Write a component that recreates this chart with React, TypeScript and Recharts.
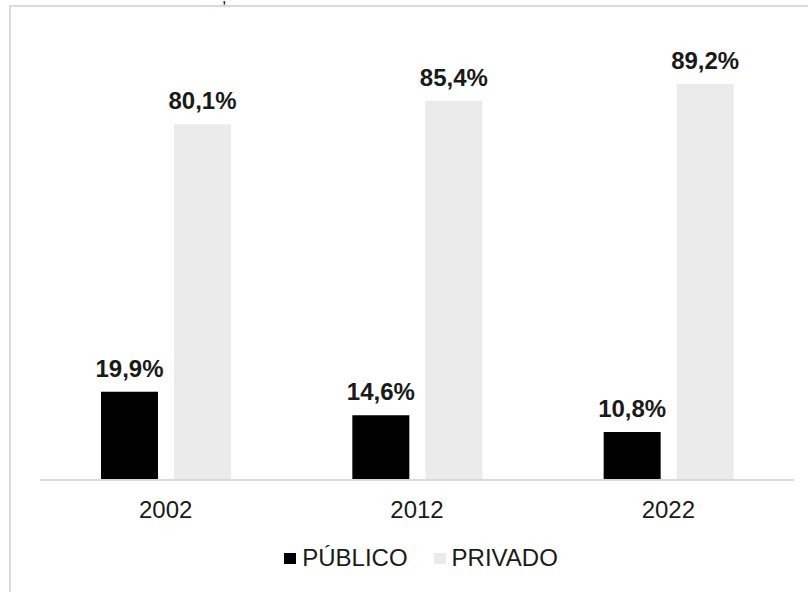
import React from "react"
import { BarChart, Bar, XAxis, YAxis, LabelList, Legend } from "recharts"

const years = ["2002", "2012", "2022"]
const publico = [19.9, 14.6, 10.8]
const privado = [80.1, 85.4, 89.2]

const FONT = "'Liberation Sans', Arial, sans-serif"
const BLACK = "#000000"
const GRAY = "#ebebeb"

const data = years.map((year, i) => ({
  year,
  publico: publico[i],
  privado: privado[i],
}))

const fmt = (v: any) => `${Number(v).toFixed(1).replace(".", ",")}%`

function LegendContent() {
  const items = [
    { label: "PÚBLICO", color: BLACK },
    { label: "PRIVADO", color: GRAY },
  ]
  return (
    <div style={{ display: "flex", justifyContent: "center", alignItems: "center", gap: 26, paddingLeft: 34, fontFamily: FONT, fontSize: 24, color: "#1a1a1a", lineHeight: "24px" }}>
      {items.map((it) => (
        <div key={it.label} style={{ display: "flex", alignItems: "center", gap: 6 }}>
          <span style={{ display: "inline-block", width: 12, height: 11, background: it.color }} />
          <span>{it.label}</span>
        </div>
      ))}
    </div>
  )
}

export default function App() {
  return (
    <div style={{ position: "absolute", left: 0, top: 0, width: 808, height: 592, overflow: "hidden", background: "#fff" }}>
      {/* remnant of the text above the frame */}
      <svg style={{ position: "absolute", left: 218, top: 0 }} width={14} height={8}>
        <text x={4} y={3} fontSize={16} fontFamily={FONT} fill="#000">,</text>
      </svg>
      <div
        style={{
          position: "absolute",
          left: 9,
          top: 5,
          width: 900,
          height: 700,
          borderTop: "2px solid #d9d9d9",
          borderLeft: "2px solid #d9d9d9",
        }}
      />
      <div style={{ position: "absolute", left: 0, top: 0 }}>
        <BarChart
          width={808}
          height={592}
          data={data}
          margin={{ top: 36, right: 14, left: 40, bottom: 22 }}
          barGap={16}
          barSize={57}
        >
          <XAxis
            dataKey="year"
            height={50}
            tickLine={false}
            tickSize={0}
            tickMargin={21}
            axisLine={{ stroke: "#d9d9d9", strokeWidth: 2 }}
            tick={{ fontSize: 24, fill: "#1a1a1a", fontFamily: FONT }}
          />
          <YAxis hide domain={[0, 100]} />
          <Legend
            verticalAlign="bottom"
            height={40}
            content={<LegendContent />}
            wrapperStyle={{ top: 546, left: 0, width: 808 }}
          />
          <Bar dataKey="publico" name="PÚBLICO" fill={BLACK} isAnimationActive={false}>
            <LabelList
              dataKey="publico"
              position="top"
              offset={15}
              formatter={fmt}
              style={{ fontSize: 24, fontWeight: "bold", fill: "#1a1a1a", fontFamily: FONT }}
            />
          </Bar>
          <Bar dataKey="privado" name="PRIVADO" fill={GRAY} isAnimationActive={false}>
            <LabelList
              dataKey="privado"
              position="top"
              offset={15}
              formatter={fmt}
              style={{ fontSize: 24, fontWeight: "bold", fill: "#1a1a1a", fontFamily: FONT }}
            />
          </Bar>
        </BarChart>
      </div>
    </div>
  )
}
